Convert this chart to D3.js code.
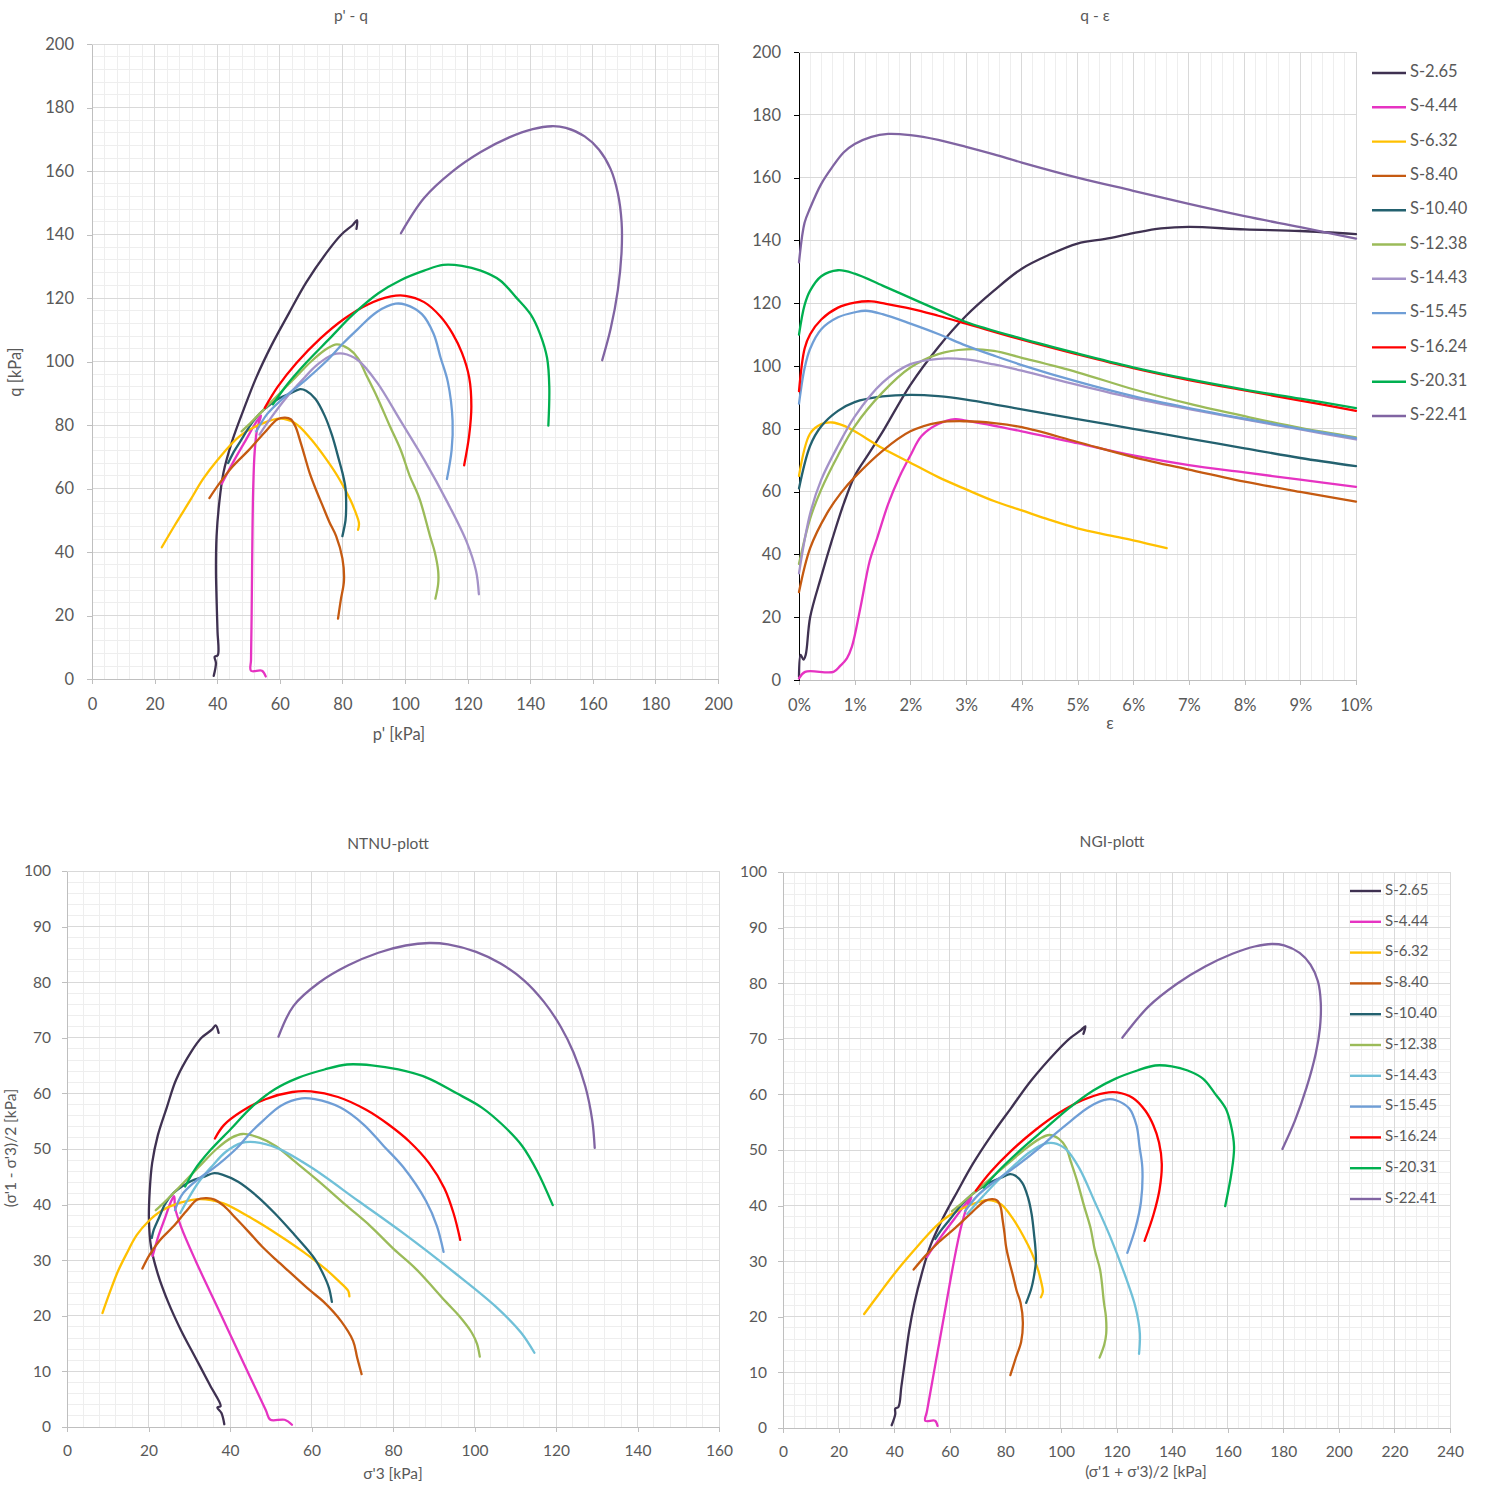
<!DOCTYPE html>
<html><head><meta charset="utf-8">
<script src="https://cdn.jsdelivr.net/npm/d3@7"></script>
<style>
body{margin:0;background:#fff;}
text{font-family:Lato,"Open Sans","Liberation Sans",sans-serif;}
</style>
</head><body>
<svg id="c" width="1485" height="1485"></svg>
<script>
// ---------- series names & colours ----------
const seriesNames = ["S-2.65","S-4.44","S-6.32","S-8.40","S-10.40","S-12.38","S-14.43","S-15.45","S-16.24","S-20.31","S-22.41"];
const colorsTop    = ["#3f3151","#e633c2","#ffc000","#c55a11","#23616f","#9bbb59","#a492c8","#6f9ed6","#ff0000","#00b050","#8064a2"];
const colorsBottom = ["#3f3151","#e633c2","#ffc000","#c55a11","#23616f","#9bbb59","#70c0d8","#6f9ed6","#ff0000","#00b050","#8064a2"];

// ---------- tick values ----------
const pqTicks   = [0,20,40,60,80,100,120,140,160,180,200];
const epsTicks  = [0,0.01,0.02,0.03,0.04,0.05,0.06,0.07,0.08,0.09,0.10];
const ntnuXTicks = [0,20,40,60,80,100,120,140,160];
const ngiXTicks  = [0,20,40,60,80,100,120,140,160,180,200,220,240];
const tTicks     = [0,10,20,30,40,50,60,70,80,90,100];

// ---------- p' - q  (p', q) ----------
const pqData = [
 [[38.9,1],[39.6,5],[39.2,7],[40.2,7.5],[40.1,15],[39.8,25],[39.6,35],[39.8,45],[40.6,55],[42,65],[44.8,75],[48.5,85],[52.5,95],[57.3,105],[62.8,115],[68.5,125],[75.5,135],[79.7,140],[83.3,143],[84.7,144.5],[84.5,141.8]],
 [[55.5,0.8],[54.3,2.6],[50.8,2.6],[50.8,6],[51,20],[51.2,40],[51.5,60],[52,72],[52.8,79],[54,83],[52.5,81],[49,75],[45.5,69],[42,62.5],[41.5,61.5]],
 [[85,47],[85.3,49],[84,53],[82.5,56.5],[79,63],[75,69],[70,75.5],[65,80.5],[60,82],[54.5,80.5],[47.3,76.6],[40.1,69],[35.5,63],[31.2,56],[26.5,48.5],[22.3,41.5]],
 [[78.6,19],[79.5,25],[80.5,31],[80,38],[78,45],[75.9,49.3],[73.5,55],[71.4,60],[69.5,65],[68,70],[66.5,75],[65,79.5],[63.5,81.8],[61.7,82.3],[59.3,81.8],[55,77.5],[50,72],[45,67],[41,62],[37.5,57]],
 [[80,45],[81,50],[81.2,54],[81,60],[80,65],[78.9,69],[76.7,76.7],[74.4,82.8],[71.4,88.2],[68.4,90.8],[66.5,91.3],[63.5,90],[60,88.5],[57,86.5],[54,84],[51,80.5],[47.5,75],[45,71],[43.5,68]],
 [[109.7,25.3],[110.6,30],[110.6,34],[109.5,40],[108,45],[104.6,56.9],[101.5,64],[98.6,72.2],[95,80],[91,89],[87.5,96],[85,101],[82,104],[78.2,105.4],[75,104],[70,100],[65,95],[60,90],[55,85],[51,81],[47.8,78]],
 [[123.6,26.7],[122.7,34],[119.7,43.2],[113.7,55.4],[106.1,69.1],[98.6,81.3],[91,93.5],[85,100.4],[80.3,102.5],[77,102.2],[72,99],[67,94],[62,88.5],[57,82],[53.5,77]],
 [[113.4,63],[114.9,72.2],[115.2,81.3],[113.7,93.5],[111.4,101.1],[109.1,108.8],[105.4,114.9],[100.1,117.9],[97,118.2],[91,115.6],[85,110.3],[80,105.5],[75.9,101.1],[68.4,94.3],[60.8,88.2],[56,83.5],[52.5,78]],
 [[118.9,67.3],[120.5,76.7],[121.2,85.9],[120.5,95],[118.2,102.7],[115.2,108.8],[111.4,114.1],[106.1,118.7],[100.1,120.7],[95.5,120.5],[88,117.9],[80.5,113.4],[72.9,107.2],[65.4,99.6],[59.3,92],[55.2,85.4]],
 [[145.8,79.8],[146.1,92],[145.4,101.1],[143.1,108.8],[140.1,114.9],[135.5,120.2],[130.3,125.6],[124.2,128.6],[118.2,130.1],[112.2,130.4],[106.1,128.6],[98.6,125.6],[91.5,121.5],[83.5,114.9],[75.9,107.2],[68.4,99.6],[62.3,92.7],[57.8,86.5]],
 [[163,100.4],[165.7,110.3],[168,122.5],[169.2,134.7],[169.2,143.9],[168,153],[165.7,160.6],[162,166.7],[157.4,170.9],[151.4,173.6],[146.9,174.1],[140.8,173.2],[133.3,170.6],[124.2,166],[115.2,159.9],[106.1,151.5],[98.7,140.4]]
];

// ---------- q - eps  (eps, q) ----------
const qeData = [
 [[0,1],[0.0003,8],[0.0008,6.5],[0.0012,8],[0.002,20],[0.004,33],[0.006,45],[0.008,56],[0.01,65],[0.0125,72],[0.015,79],[0.02,94],[0.025,106],[0.03,116],[0.035,124],[0.04,131],[0.045,135.5],[0.05,139],[0.055,140.5],[0.06,142.3],[0.065,143.8],[0.07,144.3],[0.08,143.5],[0.09,143],[0.1,142]],
 [[0,0.5],[0.0011,2.6],[0.0062,2.6],[0.0074,4.5],[0.0086,6.9],[0.0095,10.6],[0.011,22.8],[0.0127,38],[0.014,45],[0.016,56],[0.018,64.6],[0.02,71.5],[0.022,77.7],[0.025,81.5],[0.028,83.1],[0.03,82.6],[0.04,79.2],[0.05,75.4],[0.06,71.5],[0.07,68.4],[0.08,66.1],[0.09,63.8],[0.1,61.5]],
 [[0,65],[0.002,78.5],[0.004,81.5],[0.006,82],[0.008,81],[0.01,79.2],[0.015,73.8],[0.02,69.2],[0.025,64.6],[0.03,60.7],[0.035,57],[0.04,54],[0.045,51],[0.05,48.3],[0.055,46.3],[0.06,44.5],[0.066,42]],
 [[0,28],[0.002,42],[0.005,53],[0.0075,59.5],[0.01,64.6],[0.015,73],[0.02,79.2],[0.025,82],[0.03,82.4],[0.035,81.8],[0.04,80.5],[0.05,75.8],[0.06,71],[0.07,67],[0.08,63.2],[0.09,59.9],[0.1,56.8]],
 [[0,61],[0.002,74.6],[0.004,80.8],[0.007,85.7],[0.01,88.5],[0.015,90.3],[0.02,90.8],[0.025,90.4],[0.03,89.3],[0.04,86.2],[0.05,83.1],[0.06,80],[0.07,76.9],[0.08,73.8],[0.09,70.7],[0.1,68.1]],
 [[0,37],[0.002,51.4],[0.004,60.7],[0.007,71.5],[0.01,80.8],[0.015,91.6],[0.02,99.5],[0.025,103.8],[0.03,105.3],[0.035,104.8],[0.04,102.6],[0.05,98],[0.06,92.6],[0.07,88],[0.08,84],[0.09,80.3],[0.1,77.3]],
 [[0,34],[0.002,53],[0.004,63.8],[0.007,74.6],[0.01,83.9],[0.015,94.7],[0.02,100.6],[0.025,102.3],[0.03,102.1],[0.035,100.5],[0.04,98.5],[0.05,94],[0.06,89.8],[0.07,86.3],[0.08,83],[0.09,79.8],[0.1,76.6]],
 [[0,88],[0.001,99.3],[0.002,105.5],[0.004,111.7],[0.007,115.5],[0.01,117.1],[0.012,117.6],[0.015,116.5],[0.02,113.5],[0.025,110.2],[0.03,106.5],[0.035,103.3],[0.04,100.3],[0.05,95],[0.06,90.4],[0.07,86.6],[0.08,83.2],[0.09,80],[0.1,77]],
 [[0,92],[0.001,105.5],[0.002,110.1],[0.004,114.8],[0.007,118.6],[0.01,120.2],[0.013,120.6],[0.015,120],[0.02,118.3],[0.025,116],[0.03,113.5],[0.04,108.4],[0.05,103.7],[0.06,99.3],[0.07,95.5],[0.08,92.2],[0.09,89],[0.1,85.7]],
 [[0,110],[0.001,119.4],[0.002,124],[0.004,128.6],[0.007,130.5],[0.01,129.4],[0.015,125.6],[0.02,121.7],[0.025,117.8],[0.03,114],[0.04,108.7],[0.05,104],[0.06,99.6],[0.07,95.8],[0.08,92.5],[0.09,89.6],[0.1,86.6]],
 [[0,133],[0.001,145.6],[0.002,150.3],[0.004,158],[0.006,163.4],[0.008,168],[0.01,170.7],[0.013,173],[0.016,173.9],[0.02,173.5],[0.025,172],[0.03,169.8],[0.035,167.4],[0.04,164.8],[0.05,160],[0.06,155.8],[0.07,151.6],[0.08,147.7],[0.09,144.2],[0.1,140.6]]
];

// ---------- NTNU  (sigma'3, (s1-s3)/2) ----------
const ntnuData = [
 [[38.6,0.5],[37.9,2.5],[36.9,3.5],[37.7,3.75],[35.1,7.5],[31.5,12.5],[27.9,17.5],[24.8,22.5],[22.3,27.5],[20.6,32.5],[20.1,37.5],[20.3,42.5],[20.9,47.5],[22.3,52.5],[24.5,57.5],[26.8,62.5],[30.5,67.5],[33,70],[35.6,71.5],[36.5,72.25],[37.2,70.9]],
 [[55.2,0.4],[53.4,1.3],[49.9,1.3],[48.8,3],[44.3,10],[37.9,20],[31.5,30],[28,36],[26.5,39.5],[26.3,41.5],[25.5,40.5],[24,37.5],[22.5,34.5],[21.2,31.25],[21,30.75]],
 [[69.3,23.5],[69,24.5],[66.3,26.5],[63.7,28.25],[58,31.5],[52,34.5],[44.8,37.75],[38.2,40.25],[32.7,41],[27.6,40.3],[23,38.8],[20,37],[17.1,34.5],[14.5,31],[12.5,28],[10.5,24.2],[8.7,20.5]],
 [[72.3,9.5],[71.2,12.5],[70.2,15.5],[67.3,19],[63,22.5],[59.5,24.65],[55.2,27.5],[51.4,30],[47.8,32.5],[44.7,35],[41.5,37.5],[38.5,39.75],[36.2,40.9],[34.3,41.15],[32,40.9],[29.2,38.75],[26,36],[22.7,33.5],[20.3,31],[18.5,28.5]],
 [[65,22.5],[64.3,25],[63.2,27],[61,30],[58.3,32.5],[55.9,34.5],[51.1,38.35],[46.8,41.4],[42,44.1],[38.1,45.4],[36.1,45.65],[33.5,45],[30.5,44.25],[28.2,43.25],[26,42],[24.2,40.25],[22.5,37.5],[21.3,35.5],[20.8,34]],
 [[101.3,12.65],[100.6,15],[99.3,17],[96.2,20],[93,22.5],[85.6,28.45],[80.2,32],[74.5,36.1],[68.3,40],[61.3,44.5],[55.5,48],[51.3,50.5],[47.3,52],[43.1,52.7],[40.3,52],[36.7,50],[33.3,47.5],[30,45],[26.7,42.5],[24,40.5],[21.8,39]],
 [[114.7,13.35],[111.4,17],[105.3,21.6],[95.2,27.7],[83.1,34.55],[71.5,40.65],[59.8,46.75],[51.5,50.2],[46.1,51.25],[42.9,51.1],[39,49.5],[35.7,47],[32.5,44.25],[29.7,41],[27.8,38.5]],
 [[92.4,31.5],[90.8,36.1],[88.1,40.65],[82.5,46.75],[77.7,50.55],[72.8,54.4],[67.1,57.45],[60.8,58.95],[57.6,59.1],[52.5,57.8],[48.2,55.15],[44.8,52.75],[42.2,50.55],[37,47.15],[31.4,44.1],[28.2,41.75],[26.5,39]],
 [[96.5,33.65],[94.9,38.35],[92.6,42.95],[88.8,47.5],[84,51.35],[78.9,54.4],[73.4,57.05],[66.5,59.35],[59.9,60.35],[55.3,60.25],[48.7,58.95],[42.7,56.7],[38.5,54.3],[36.3,51.9]],
 [[119.2,39.9],[115.4,46],[111.7,50.55],[106.8,54.4],[101.8,57.45],[95.4,60.1],[88.4,62.8],[81.3,64.3],[74.8,65.05],[68.7,65.2],[63.2,64.3],[56.7,62.8],[51,60.75],[45.2,57.45],[40.2,53.6],[35.2,49.8],[31.4,46.35],[29,43.25]],
 [[129.5,50.2],[128.9,55.15],[127.2,61.25],[124.3,67.35],[121.2,71.95],[117,76.5],[112.2,80.3],[106.4,83.35],[100.4,85.45],[93.5,86.8],[88.9,87.05],[83.1,86.6],[76.4,85.3],[68.9,83],[61.9,79.95],[55.6,75.75],[51.9,70.2]]
];

// ---------- NGI  ((s1+s3)/2, (s1-s3)/2) ----------
const ngiData = [
 [[39.1,0.5],[40.4,2.5],[40.4,3.5],[41.5,3.75],[42.6,7.5],[44,12.5],[45.4,17.5],[47.3,22.5],[49.8,27.5],[52.8,32.5],[57.3,37.5],[62.7,42.5],[68.3,47.5],[74.8,52.5],[82,57.5],[89.3,62.5],[98,67.5],[103,70],[107.1,71.5],[108.8,72.25],[108.1,70.9]],
 [[55.6,0.4],[54.7,1.3],[51.2,1.3],[51.8,3],[54.3,10],[57.9,20],[61.5,30],[64,36],[66,39.5],[67.8,41.5],[66,40.5],[61.5,37.5],[57,34.5],[52.4,31.25],[51.8,30.75]],
 [[92.8,23.5],[93.5,24.5],[92.8,26.5],[91.9,28.25],[89.5,31.5],[86.5,34.5],[82.6,37.75],[78.4,40.25],[73.7,41],[67.8,40.2],[60.1,38.3],[55.5,36.5],[51.6,34.5],[45.5,31],[40.5,28],[34.7,24.2],[29.2,20.5]],
 [[81.8,9.5],[83.7,12.5],[85.7,15.5],[86.3,19],[85.5,22.5],[84.1,24.65],[82.7,27.5],[81.4,30],[80.3,32.5],[79.7,35],[79,37.5],[78.3,39.75],[77.1,40.9],[75.4,41.15],[72.9,40.9],[67.9,38.75],[62,36],[56.2,33.5],[51.3,31],[47,28.5]],
 [[87.5,22.5],[89.3,25],[90.2,27],[91,30],[90.8,32.5],[90.4,34.5],[89.5,38.35],[88.2,41.4],[86.1,44.1],[83.5,45.4],[81.7,45.65],[78.5,45],[74.8,44.25],[71.4,43.25],[68,42],[64.4,40.25],[60,37.5],[56.8,35.5],[54.8,34]],
 [[113.9,12.65],[115.6,15],[116.3,17],[116.2,20],[115.5,22.5],[114.1,28.45],[112.2,32],[110.6,36.1],[108.3,40],[105.8,44.5],[103.5,48],[101.8,50.5],[99.3,52],[95.8,52.7],[92.3,52],[86.7,50],[80.8,47.5],[75,45],[69.2,42.5],[64.5,40.5],[60.8,39]],
 [[128.1,13.35],[128.4,17],[126.9,21.6],[122.9,27.7],[117.6,34.55],[112.2,40.65],[106.6,46.75],[101.7,50.2],[97.4,51.25],[94,51.1],[88.5,49.5],[82.7,47],[76.8,44.25],[70.7,41],[66.3,38.5]],
 [[123.9,31.5],[126.9,36.1],[128.8,40.65],[129.3,46.75],[128.3,50.55],[127.2,54.4],[124.6,57.45],[119.8,58.95],[116.7,59.1],[110.3,57.8],[103.4,55.15],[97.6,52.75],[92.7,50.55],[84.1,47.15],[75.5,44.1],[69.9,41.75],[65.5,39]],
 [[130.1,33.65],[133.3,38.35],[135.5,42.95],[136.3,47.5],[135.3,51.35],[133.3,54.4],[130.4,57.05],[125.9,59.35],[120.2,60.35],[115.6,60.25],[107.7,58.95],[99.4,56.7],[90.8,53.6],[82,49.8],[74.6,46],[69.4,42.7]],
 [[159.1,39.9],[161.4,46],[162.3,50.55],[161.2,54.4],[159.3,57.45],[155.5,60.1],[151.2,62.8],[145.6,64.3],[139.9,65.05],[133.9,65.2],[127.5,64.3],[119.5,62.8],[111.8,60.75],[102.7,57.45],[93.8,53.6],[85,49.8],[77.8,46.35],[72.2,43.25]],
 [[179.7,50.2],[184.1,55.15],[188.4,61.25],[191.7,67.35],[193.2,71.95],[193.5,76.5],[192.5,80.3],[189.8,83.35],[185.9,85.45],[180.3,86.8],[175.9,87.05],[169.7,86.6],[161.7,85.3],[151.9,83],[141.9,79.95],[131.4,75.75],[122.1,70.2]]
];

// ---------- drawing ----------
const svg = d3.select("#c");
const TXT = "#595959";

function near(v, arr){ return arr.some(t => Math.abs(t - v) < 1e-7); }

function panel(o){
  const g = svg.append("g");
  const x = d3.scaleLinear().domain(o.xDomain).range([o.left, o.right]);
  const y = d3.scaleLinear().domain(o.yDomain).range([o.bottom, o.top]);
  const gg = g.append("g").attr("shape-rendering","crispEdges");
  if (o.xMinor) {
    const v = d3.range(o.xDomain[0], o.xDomain[1] + o.xMinor/2, o.xMinor).filter(d => !near(d, o.xTicks));
    gg.selectAll(null).data(v).join("line")
      .attr("x1", d => x(d)).attr("x2", d => x(d)).attr("y1", o.top).attr("y2", o.bottom)
      .attr("stroke", "#eeeeee").attr("stroke-width", 1);
  }
  if (o.yMinor) {
    const v = d3.range(o.yDomain[0], o.yDomain[1] + o.yMinor/2, o.yMinor).filter(d => !near(d, o.yTicks));
    gg.selectAll(null).data(v).join("line")
      .attr("y1", d => y(d)).attr("y2", d => y(d)).attr("x1", o.left).attr("x2", o.right)
      .attr("stroke", "#eeeeee").attr("stroke-width", 1);
  }
  gg.selectAll(null).data(o.xTicks).join("line")
    .attr("x1", d => x(d)).attr("x2", d => x(d)).attr("y1", o.top).attr("y2", o.bottom)
    .attr("stroke", "#d9d9d9").attr("stroke-width", 1);
  gg.selectAll(null).data(o.yTicks).join("line")
    .attr("y1", d => y(d)).attr("y2", d => y(d)).attr("x1", o.left).attr("x2", o.right)
    .attr("stroke", "#d9d9d9").attr("stroke-width", 1);

  const xa = g.append("g").attr("transform", `translate(0,${o.bottom})`)
    .call(d3.axisBottom(x).tickValues(o.xTicks).tickFormat(o.xFmt || (d => d)).tickSize(5).tickSizeOuter(0).tickPadding(o.xPad));
  const ya = g.append("g").attr("transform", `translate(${o.left},0)`)
    .call(d3.axisLeft(y).tickValues(o.yTicks).tickFormat(d => d).tickSize(5).tickSizeOuter(0).tickPadding(o.yPad));
  [xa, ya].forEach(a => {
    a.attr("shape-rendering","crispEdges");
    a.selectAll("text").attr("fill", TXT).style("font-size", o.tickFont + "px").style("font-family","Lato");
  });
  xa.select(".domain").attr("stroke", "#bfbfbf");
  xa.selectAll(".tick line").attr("stroke", "#bfbfbf");
  ya.select(".domain").attr("stroke", o.yAxisColor || "#bfbfbf");
  ya.selectAll(".tick line").attr("stroke", o.yAxisColor || "#bfbfbf");

  const line = d3.line().x(d => x(d[0])).y(d => y(d[1])).curve(d3.curveCatmullRom.alpha(0.5));
  g.append("g").selectAll("path").data(o.data).join("path")
    .attr("d", line).attr("fill", "none")
    .attr("stroke", (d, i) => o.colors[i]).attr("stroke-width", 2.3)
    .attr("stroke-linejoin", "round").attr("stroke-linecap", "round");

  g.append("text").attr("x", o.title[1]).attr("y", o.title[2]).attr("text-anchor", "middle")
    .attr("dominant-baseline", "middle").attr("fill", TXT).style("font-size", "15.5px").text(o.title[0]);
  if (o.xLabel) g.append("text").attr("x", o.xLabel[1]).attr("y", o.xLabel[2]).attr("text-anchor", "middle")
    .attr("dominant-baseline", "middle").attr("fill", TXT).style("font-size", o.labFont + "px").text(o.xLabel[0]);
  if (o.yLabel) g.append("text").attr("transform", `translate(${o.yLabel[1]},${o.yLabel[2]}) rotate(-90)`)
    .attr("text-anchor", "middle").attr("dominant-baseline", "middle").attr("fill", TXT)
    .style("font-size", o.labFont + "px").text(o.yLabel[0]);

  if (o.legend) {
    const L = o.legend;
    const lg = g.append("g");
    seriesNames.forEach((s, i) => {
      const yy = L.y0 + i * L.dy;
      lg.append("line").attr("x1", L.x0).attr("x2", L.x1).attr("y1", yy).attr("y2", yy)
        .attr("stroke", o.colors[i]).attr("stroke-width", 2.4);
      lg.append("text").attr("x", L.x1 + 4).attr("y", yy).attr("dominant-baseline", "middle")
        .attr("fill", TXT).style("font-size", L.font + "px").text(s);
    });
  }
}

panel({
  xDomain: [0, 200], yDomain: [0, 200], left: 92, right: 718, top: 44, bottom: 679,
  xTicks: pqTicks, yTicks: pqTicks, xMinor: 4, yMinor: 4,
  xPad: 14, yPad: 13, tickFont: 16.5, labFont: 16.5,
  data: pqData, colors: colorsTop,
  title: ["p' - q", 351, 17], xLabel: ["p' [kPa]", 399, 736], yLabel: ["q [kPa]", 17, 372]
});

panel({
  xDomain: [0, 0.10], yDomain: [0, 200], left: 799, right: 1356, top: 52, bottom: 680,
  xTicks: epsTicks, yTicks: pqTicks, xMinor: 0.002, yMinor: null,
  xFmt: d3.format(".0%"), xPad: 14, yPad: 13, tickFont: 16.5, labFont: 16.5,
  yAxisColor: "#000000",
  data: qeData, colors: colorsTop,
  title: ["q - ε", 1095, 17], xLabel: ["ε", 1110, 725],
  legend: { x0: 1372, x1: 1406, y0: 73, dy: 34.3, font: 16.5 }
});

panel({
  xDomain: [0, 160], yDomain: [0, 100], left: 67, right: 719, top: 871, bottom: 1427,
  xTicks: ntnuXTicks, yTicks: tTicks, xMinor: 4, yMinor: 2,
  xPad: 13, yPad: 11, tickFont: 15.5, labFont: 15.5,
  data: ntnuData, colors: colorsBottom,
  title: ["NTNU-plott", 388, 845], xLabel: ["σ'3 [kPa]", 393, 1475], yLabel: ["(σ'1 - σ'3)/2 [kPa]", 12, 1148]
});

panel({
  xDomain: [0, 240], yDomain: [0, 100], left: 783, right: 1450, top: 872, bottom: 1428,
  xTicks: ngiXTicks, yTicks: tTicks, xMinor: 4, yMinor: 2,
  xPad: 13, yPad: 11, tickFont: 15.5, labFont: 15.5,
  data: ngiData, colors: colorsBottom,
  title: ["NGI-plott", 1112, 843], xLabel: ["(σ'1 + σ'3)/2 [kPa]", 1146, 1473],
  legend: { x0: 1350, x1: 1381, y0: 891, dy: 30.8, font: 15 }
});
</script>
</body></html>
